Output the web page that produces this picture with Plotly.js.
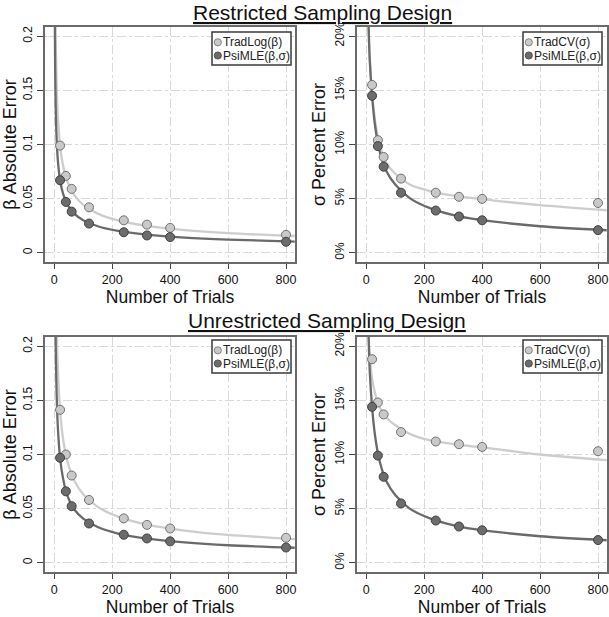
<!DOCTYPE html>
<html>
<head>
<meta charset="utf-8">
<script src="https://cdn.plot.ly/plotly-3.0.1.min.js"></script>
<style>html,body{margin:0;padding:0;background:#fff;}#chart{width:609px;height:617px;}</style>
</head>
<body>
<div id="chart"></div>
<script>
// ---------- data ----------
const trials = [20, 40, 60, 120, 240, 320, 400, 800];
const restrictedBetaTradLog   = [0.099, 0.071, 0.059, 0.042, 0.030, 0.026, 0.023, 0.0166];
const restrictedBetaPsiMLE    = [0.067, 0.047, 0.038, 0.027, 0.019, 0.016, 0.0145, 0.0102];
const restrictedSigmaTradCV   = [15.5, 10.4, 8.85, 6.85, 5.55, 5.17, 4.98, 4.6];
const restrictedSigmaPsiMLE   = [14.5, 9.85, 7.95, 5.55, 3.9, 3.35, 3.0, 2.09];
const unrestrictedBetaTradLog = [0.1413, 0.100, 0.0806, 0.058, 0.041, 0.035, 0.0317, 0.0231];
const unrestrictedBetaPsiMLE  = [0.097, 0.066, 0.0523, 0.0363, 0.0259, 0.0225, 0.0198, 0.0141];
const unrestrictedSigmaTradCV = [18.8, 14.8, 13.7, 12.07, 11.2, 10.95, 10.7, 10.3];
const unrestrictedSigmaPsiMLE = [14.4, 9.9, 7.94, 5.48, 3.9, 3.35, 3.0, 2.1];

// fitted curves
const fitTrials = [2, 3, 5, 8, 12, 20, 30, 45, 70, 100, 150, 220, 320, 450, 600, 830];
const restrictedBetaTradLogFit   = [0.313, 0.256, 0.198, 0.157, 0.128, 0.099, 0.081, 0.066, 0.053, 0.0443, 0.0362, 0.0299, 0.0248, 0.0209, 0.0181, 0.0155];
const restrictedBetaPsiMLEFit    = [0.212, 0.173, 0.134, 0.106, 0.0866, 0.067, 0.0548, 0.0447, 0.0359, 0.030, 0.0245, 0.0202, 0.0168, 0.0141, 0.0122, 0.0104];
const restrictedSigmaTradCVFit   = [42, 33, 26, 21, 18, 14.9, 12.3, 10.1, 8.3, 7.3, 6.3, 5.7, 5.2, 4.8, 4.4, 3.93];
const restrictedSigmaPsiMLEFit   = [42, 33, 26, 21, 17.8, 14.5, 11.8, 9.5, 7.5, 6.3, 5.05, 4.12, 3.36, 2.85, 2.45, 2.08];
const unrestrictedBetaTradLogFit = [0.447, 0.365, 0.283, 0.223, 0.182, 0.141, 0.115, 0.094, 0.0755, 0.0632, 0.0516, 0.0426, 0.0353, 0.0298, 0.0258, 0.0219];
const unrestrictedBetaPsiMLEFit  = [0.324, 0.262, 0.200, 0.157, 0.127, 0.097, 0.0784, 0.062, 0.049, 0.0408, 0.033, 0.027, 0.0223, 0.0188, 0.0162, 0.0139];
const unrestrictedSigmaTradCVFit = [30, 27, 23.5, 21, 19.2, 17, 15.7, 14.4, 13.4, 12.7, 11.9, 11.3, 10.9, 10.5, 10.0, 9.48];
const unrestrictedSigmaPsiMLEFit = [42, 33, 26, 21, 17.7, 14.4, 11.8, 9.5, 7.5, 6.25, 5.0, 4.1, 3.35, 2.85, 2.45, 2.08];

const xTickVals = [0, 200, 400, 600, 800];
const betaTickVals = [0, 0.05, 0.1, 0.15, 0.2];
const betaTickText = ["0", "0.05", "0.1", "0.15", "0.2"];
const sigmaTickVals = [0, 5, 10, 15, 20];
const sigmaTickText = ["0%", "5%", "10%", "15%", "20%"];

const panelTitles = ["Restricted Sampling Design", "Unrestricted Sampling Design"];
const betaLegend = ["TradLog(β)", "PsiMLE(β,σ)"];
const sigmaLegend = ["TradCV(σ)", "PsiMLE(β,σ)"];

// ---------- styles ----------
const W = 609, H = 617;
const FONT = "Liberation Sans, Arial, Helvetica, sans-serif";
const LIGHT_LINE = "#cdcdcd", DARK_LINE = "#6a6a6a";
const LIGHT_FILL = "#c9c9c9", DARK_FILL = "#6c6c6c";
const LIGHT_EDGE = "#707070", DARK_EDGE = "#404040";
const px = x => x / W;
const py = y => 1 - y / H;

function lineTrace(x, y, color, ax) {
  return {x, y, type: "scatter", mode: "lines", line: {color, width: 2.3, shape: "spline", smoothing: 0.8},
          xaxis: "x" + ax, yaxis: "y" + ax, hoverinfo: "skip", showlegend: false};
}
function pointTrace(x, y, fill, edge, ax, name) {
  return {x, y, type: "scatter", mode: "markers", name,
          marker: {color: fill, size: 9, line: {color: edge, width: 1}},
          cliponaxis: true, xaxis: "x" + ax, yaxis: "y" + ax, showlegend: false};
}

const traces = [
  lineTrace(fitTrials, restrictedBetaTradLogFit, LIGHT_LINE, ""),
  lineTrace(fitTrials, restrictedBetaPsiMLEFit, DARK_LINE, ""),
  pointTrace(trials, restrictedBetaTradLog, LIGHT_FILL, LIGHT_EDGE, "", betaLegend[0]),
  pointTrace(trials, restrictedBetaPsiMLE, DARK_FILL, DARK_EDGE, "", betaLegend[1]),

  lineTrace(fitTrials, restrictedSigmaTradCVFit, LIGHT_LINE, "2"),
  lineTrace(fitTrials, restrictedSigmaPsiMLEFit, DARK_LINE, "2"),
  pointTrace(trials, restrictedSigmaTradCV, LIGHT_FILL, LIGHT_EDGE, "2", sigmaLegend[0]),
  pointTrace(trials, restrictedSigmaPsiMLE, DARK_FILL, DARK_EDGE, "2", sigmaLegend[1]),

  lineTrace(fitTrials, unrestrictedBetaTradLogFit, LIGHT_LINE, "3"),
  lineTrace(fitTrials, unrestrictedBetaPsiMLEFit, DARK_LINE, "3"),
  pointTrace(trials, unrestrictedBetaTradLog, LIGHT_FILL, LIGHT_EDGE, "3", betaLegend[0]),
  pointTrace(trials, unrestrictedBetaPsiMLE, DARK_FILL, DARK_EDGE, "3", betaLegend[1]),

  lineTrace(fitTrials, unrestrictedSigmaTradCVFit, LIGHT_LINE, "4"),
  lineTrace(fitTrials, unrestrictedSigmaPsiMLEFit, DARK_LINE, "4"),
  pointTrace(trials, unrestrictedSigmaTradCV, LIGHT_FILL, LIGHT_EDGE, "4", sigmaLegend[0]),
  pointTrace(trials, unrestrictedSigmaPsiMLE, DARK_FILL, DARK_EDGE, "4", sigmaLegend[1])
];

// panel boxes in pixels: [left, top, right, bottom]
const boxes = [[45, 27, 295, 262], [357, 27, 607, 262], [45, 337, 295, 572], [357, 337, 607, 572]];

function xAxis(b, standoff) {
  return {domain: [px(b[0]), px(b[2])], range: [-32, 831], tickvals: xTickVals, ticks: "outside", ticklen: 5,
          tickcolor: "#444", tickfont: {size: 12.5, color: "#111", family: FONT},
          showline: true, mirror: true, linecolor: "#6a6a6a", linewidth: 2,
          showgrid: true, gridcolor: "#d9d9d9", griddash: "dashdot", gridwidth: 1, zeroline: false,
          title: {text: "Number of Trials", font: {size: 17.5, color: "#111", family: FONT}, standoff: standoff},
          automargin: false, fixedrange: true};
}
function yAxis(b, vals, text, title) {
  return {domain: [py(b[3]), py(b[1])], range: vals[4] > 1 ? [-0.85, 20.85] : [-0.0085, 0.2085],
          tickvals: vals, ticktext: text, tickangle: -90, ticks: "outside", ticklen: 6,
          tickcolor: "#444", tickfont: {size: 12, color: "#111", family: FONT},
          showline: true, mirror: true, linecolor: "#6a6a6a", linewidth: 2,
          showgrid: true, gridcolor: "#d9d9d9", griddash: "dashdot", gridwidth: 1, zeroline: false,
          title: {text: title, font: {size: 18, color: "#111", family: FONT}, standoff: 3},
          automargin: false, fixedrange: true};
}

const shapes = [];
const annotations = [];

// legends (drawn as boxes with text)
const legendBoxes = [[212, 32, 291, 65], [523, 32, 602, 65], [212, 340, 291, 373], [523, 340, 602, 373]];
legendBoxes.forEach((lb, i) => {
  const labels = (i % 2 === 0) ? betaLegend : sigmaLegend;
  shapes.push({type: "rect", xref: "paper", yref: "paper", x0: px(lb[0]), x1: px(lb[2]), y0: py(lb[3]), y1: py(lb[1]),
               line: {color: "#3a3a3a", width: 1.5}, fillcolor: "#ffffff", layer: "above"});
  const rows = [lb[1] + 10.3, lb[1] + 23.5];
  const fills = [LIGHT_FILL, DARK_FILL], edges = [LIGHT_EDGE, DARK_EDGE];
  rows.forEach((ry, k) => {
    const cx = lb[0] + 5.8, r = 3.6;
    shapes.push({type: "circle", xref: "paper", yref: "paper", x0: px(cx - r), x1: px(cx + r), y0: py(ry + r), y1: py(ry - r),
                 line: {color: edges[k], width: 0.8}, fillcolor: fills[k], layer: "above"});
    annotations.push({xref: "paper", yref: "paper", x: px(lb[0] + 9.5), y: py(ry), xanchor: "left", yanchor: "middle",
                      text: labels[k], showarrow: false, borderpad: 0,
                      font: {size: 12, color: "#222", family: FONT}});
  });
});

// panel titles
annotations.push({xref: "paper", yref: "paper", x: px(192), y: py(0), xanchor: "left", yanchor: "top", borderpad: 0,
                  text: "<u>" + panelTitles[0] + "</u>", showarrow: false, font: {size: 21, color: "#111", family: FONT}});
annotations.push({xref: "paper", yref: "paper", x: px(187), y: py(320), xanchor: "left", yanchor: "middle", borderpad: 0,
                  text: "<u>" + panelTitles[1] + "</u>", showarrow: false, font: {size: 21, color: "#111", family: FONT}});

const layout = {
  width: W, height: H, margin: {l: 0, r: 0, t: 0, b: 0},
  paper_bgcolor: "#ffffff", plot_bgcolor: "#ffffff",
  font: {family: FONT, color: "#111"},
  showlegend: false,
  xaxis: xAxis(boxes[0], 5), yaxis: yAxis(boxes[0], betaTickVals, betaTickText, "β Absolute Error"),
  xaxis2: xAxis(boxes[1], 5), yaxis2: yAxis(boxes[1], sigmaTickVals, sigmaTickText, "σ Percent Error"),
  xaxis3: xAxis(boxes[2], 4), yaxis3: yAxis(boxes[2], betaTickVals, betaTickText, "β Absolute Error"),
  xaxis4: xAxis(boxes[3], 4), yaxis4: yAxis(boxes[3], sigmaTickVals, sigmaTickText, "σ Percent Error"),
  shapes, annotations
};
layout.xaxis2.anchor = "y2"; layout.yaxis2.anchor = "x2";
layout.xaxis3.anchor = "y3"; layout.yaxis3.anchor = "x3";
layout.xaxis4.anchor = "y4"; layout.yaxis4.anchor = "x4";

Plotly.newPlot("chart", traces, layout, {displayModeBar: false, staticPlot: true});
</script>
</body>
</html>
